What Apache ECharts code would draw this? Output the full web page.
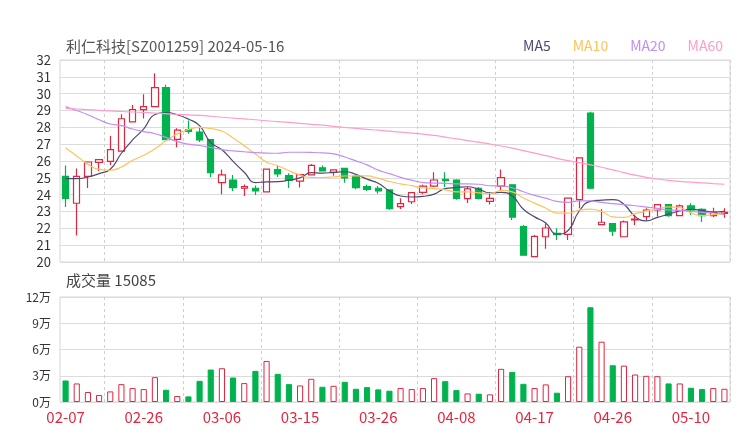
<!DOCTYPE html>
<html>
<head>
<meta charset="utf-8">
<script src="https://cdn.jsdelivr.net/npm/echarts@6/dist/echarts.min.js"></script>
<style>
html,body{margin:0;padding:0;background:#fff;}
#chart{width:740px;height:440px;}
</style>
</head>
<body>
<div id="chart"></div>
<script>
const dates = ['02-07','02-08','02-19','02-20','02-21','02-22','02-23','02-26','02-27','02-28','02-29','03-01','03-04','03-05','03-06','03-07','03-08','03-11','03-12','03-13','03-14','03-15','03-18','03-19','03-20','03-21','03-22','03-25','03-26','03-27','03-28','03-29','04-01','04-02','04-03','04-08','04-09','04-10','04-11','04-12','04-15','04-16','04-17','04-18','04-19','04-22','04-23','04-24','04-25','04-26','04-29','04-30','05-06','05-07','05-08','05-09','05-10','05-13','05-14','05-15'];

const opens = [25.09,23.49,25.09,25.92,25.98,26.59,28.32,29.05,29.23,30.36,27.29,27.86,27.72,27.27,24.71,24.87,24.38,24.38,24.16,25.49,25.13,24.81,25.17,25.60,25.33,25.56,25.09,24.48,24.38,24.28,23.29,23.58,24.14,24.51,24.91,24.87,23.76,24.38,23.60,24.51,24.59,22.10,20.32,21.50,21.70,21.64,23.70,28.85,22.22,22.28,21.50,22.50,22.69,23.09,23.41,22.75,23.33,23.13,22.75,22.89];
const closes = [23.78,25.09,25.94,26.08,26.67,28.51,29.05,29.23,30.36,27.27,27.84,27.76,27.25,25.31,25.17,24.42,24.48,24.22,25.52,25.23,24.85,25.19,25.74,25.41,25.47,24.99,24.42,24.32,24.22,23.17,23.47,24.12,24.51,24.87,24.83,23.78,24.34,23.78,23.78,25.01,22.67,20.40,21.52,22.02,21.62,23.80,26.18,24.38,22.36,21.84,22.38,22.55,23.09,23.41,22.75,23.33,23.09,22.75,22.95,22.95];
const lows = [23.27,21.58,24.40,25.41,25.76,26.59,28.32,28.53,29.23,27.27,26.81,27.62,27.13,25.05,24.02,24.22,23.92,23.98,24.16,25.05,24.40,24.42,25.17,25.37,25.13,24.71,24.32,24.22,24.06,23.11,23.15,23.45,24.02,24.46,24.46,23.70,23.50,23.72,23.41,24.22,22.50,20.40,20.32,20.79,21.31,21.31,23.19,24.32,22.22,21.55,21.50,22.20,22.50,22.71,22.69,22.75,22.79,22.38,22.67,22.63];
const highs = [25.74,25.56,25.95,26.08,27.49,28.77,29.33,29.96,31.21,30.53,27.94,28.40,27.98,27.27,25.50,25.17,24.60,24.55,25.52,25.72,25.27,25.19,25.82,25.74,25.50,25.60,25.17,24.61,24.51,24.32,23.78,24.12,24.59,25.33,25.33,24.91,24.46,24.46,24.16,25.50,24.60,22.20,21.60,22.28,22.00,23.80,26.18,28.93,23.13,22.28,22.46,22.81,23.19,23.45,23.43,23.41,23.49,23.19,23.23,23.19];

const volumes = [24600,21200,11400,8000,12100,20400,15900,14800,28400,14000,6800,6400,24200,37100,38600,28000,21600,35600,46900,32200,20400,18900,26500,17400,18500,23100,15100,17000,14400,12900,15900,14800,15900,27300,23800,13600,9800,9500,8700,37900,34400,20800,15900,20100,10600,29500,63200,108300,68900,42000,41600,31400,29900,29500,21200,21200,16300,14800,15900,15085];

const ma5 = [24.95,24.95,25.05,25.25,25.51,26.46,27.25,27.91,28.76,28.88,28.75,28.49,28.10,27.09,26.67,25.98,25.33,24.72,24.76,24.77,24.86,25.00,25.31,25.28,25.33,25.36,25.21,24.92,24.68,24.22,23.92,23.86,23.90,24.03,24.36,24.42,24.47,24.32,24.10,24.14,23.92,23.13,22.68,22.32,21.65,21.87,23.03,23.60,23.67,23.71,23.43,22.70,22.44,22.65,22.84,23.03,23.13,23.07,22.97,23.01];
const ma10 = [26.79,26.30,25.80,25.50,25.45,25.64,26.04,26.34,26.73,27.20,27.61,27.87,28.00,27.93,27.78,27.37,26.91,26.41,25.93,25.72,25.42,25.17,25.02,25.02,25.05,25.11,25.11,25.12,24.98,24.78,24.64,24.54,24.41,24.36,24.29,24.17,24.17,24.11,24.07,24.25,24.17,23.80,23.50,23.21,22.90,22.90,23.08,23.14,23.00,22.68,22.65,22.87,23.02,23.16,23.28,23.23,22.92,22.76,22.81,22.93];
const ma20 = [29.23,29.00,28.75,28.45,28.20,28.10,27.90,27.75,27.62,27.40,27.15,27.00,26.92,26.80,26.68,26.60,26.55,26.50,26.47,26.46,26.52,26.52,26.51,26.48,26.42,26.24,26.01,25.77,25.46,25.25,25.03,24.86,24.72,24.69,24.67,24.64,24.64,24.62,24.53,24.52,24.41,24.17,23.96,23.79,23.60,23.54,23.63,23.63,23.54,23.47,23.41,23.34,23.26,23.19,23.09,23.07,23.00,22.95,22.91,22.81];
const ma60 = [29.13,29.09,29.05,29.01,28.98,28.94,28.91,28.88,28.85,28.81,28.77,28.74,28.71,28.66,28.60,28.55,28.50,28.45,28.39,28.34,28.29,28.23,28.18,28.13,28.06,27.99,27.94,27.88,27.83,27.77,27.71,27.66,27.60,27.52,27.42,27.31,27.21,27.12,27.01,26.89,26.76,26.62,26.47,26.32,26.16,26.02,25.90,25.77,25.63,25.47,25.31,25.16,25.03,24.93,24.85,24.79,24.74,24.70,24.66,24.62];

const priceTicks = {min: 20, max: 32, interval: 1};
const volTicks = {min: 0, max: 120000, interval: 30000};
const titleText = '利仁科技[SZ001259] 2024-05-16';
const volTitle = '成交量 15085';

const RED = '#e3263f', GREEN = '#00b34e';
const C5 = '#4b4a6e', C10 = '#ffc25c', C20 = '#c18ef2', C60 = '#ff9ccc';
const FONT = '"Noto Sans CJK SC", "Noto Sans", sans-serif';

const kdata = opens.map((o, i) => [o, closes[i], lows[i], highs[i]]);
const vdata = volumes.map((v, i) => ({
  value: v,
  itemStyle: closes[i] >= opens[i]
    ? {color: '#fff', borderColor: RED, borderWidth: 1}
    : {color: GREEN, borderColor: GREEN, borderWidth: 1}
}));

const splitFn = (idx) => idx % 7 === 4;
const chart = echarts.init(document.getElementById('chart'), null, {renderer: 'canvas'});
const maLine = (name, data, color) => ({
  name, type: 'line', data, xAxisIndex: 0, yAxisIndex: 0, smooth: true,
  showSymbol: false, symbol: 'none', lineStyle: {color, width: 1.2}, itemStyle: {color},
  z: 3
});
chart.setOption({
  animation: false,
  backgroundColor: '#fff',
  textStyle: {fontFamily: FONT},
  title: [
    {text: titleText, left: 66, top: 39, padding: 0,
     textStyle: {fontSize: 15, fontWeight: 'normal', color: '#555', fontFamily: FONT}},
    {text: volTitle, left: 66, top: 273, padding: 0,
     textStyle: {fontSize: 15, fontWeight: 'normal', color: '#444', fontFamily: FONT}}
  ],
  legend: {
    right: 17, top: 39, padding: 0, icon: 'none', itemWidth: 0, itemHeight: 0, itemGap: 17,
    textStyle: {fontSize: 14, fontFamily: FONT},
    data: [
      {name: 'MA5', textStyle: {color: C5}},
      {name: 'MA10', textStyle: {color: C10}},
      {name: 'MA20', textStyle: {color: C20}},
      {name: 'MA60', textStyle: {color: C60}}
    ]
  },
  grid: [
    {left: 60, right: 10, top: 60, height: 202, show: true, borderColor: '#d6d6d6', borderWidth: 1, backgroundColor: '#fff'},
    {left: 60, right: 10, top: 297, height: 105, show: true, borderColor: '#d6d6d6', borderWidth: 1, backgroundColor: '#fff'}
  ],
  xAxis: [
    {type: 'category', gridIndex: 0, data: dates, boundaryGap: true,
     axisLine: {show: false}, axisTick: {show: false}, axisLabel: {show: false},
     splitLine: {show: true, interval: splitFn, lineStyle: {color: '#cfcfcf', type: [3, 3], width: 1}}},
    {type: 'category', gridIndex: 1, data: dates, boundaryGap: true,
     axisLine: {show: false}, axisTick: {show: false},
     axisLabel: {show: true, interval: 6, color: RED, fontSize: 15, margin: 8, fontFamily: FONT},
     splitLine: {show: true, interval: splitFn, lineStyle: {color: '#cfcfcf', type: [3, 3], width: 1}}}
  ],
  yAxis: [
    {type: 'value', gridIndex: 0, min: priceTicks.min, max: priceTicks.max, interval: priceTicks.interval, scale: true,
     axisLine: {show: false}, axisTick: {show: false},
     axisLabel: {color: '#333', fontSize: 13, margin: 9, fontFamily: FONT},
     splitLine: {show: true, lineStyle: {color: '#dcdcdc', width: 1}}},
    {type: 'value', gridIndex: 1, min: volTicks.min, max: volTicks.max, interval: volTicks.interval,
     axisLine: {show: false}, axisTick: {show: false},
     axisLabel: {color: '#333', fontSize: 12, margin: 9, fontFamily: FONT,
       formatter: (v) => (v / 10000) + '万'},
     splitLine: {show: true, lineStyle: {color: '#dcdcdc', width: 1}}}
  ],
  series: [
    {name: 'K', type: 'candlestick', data: kdata, xAxisIndex: 0, yAxisIndex: 0, barWidth: '60%',
     itemStyle: {color: '#fff', color0: GREEN, borderColor: RED, borderColor0: GREEN, borderWidth: 1.2}, z: 2},
    maLine('MA5', ma5, C5),
    maLine('MA10', ma10, C10),
    maLine('MA20', ma20, C20),
    maLine('MA60', ma60, C60),
    {name: 'VOL', type: 'bar', data: vdata, xAxisIndex: 1, yAxisIndex: 1, barWidth: '55%'}
  ]
});
</script>
</body>
</html>
